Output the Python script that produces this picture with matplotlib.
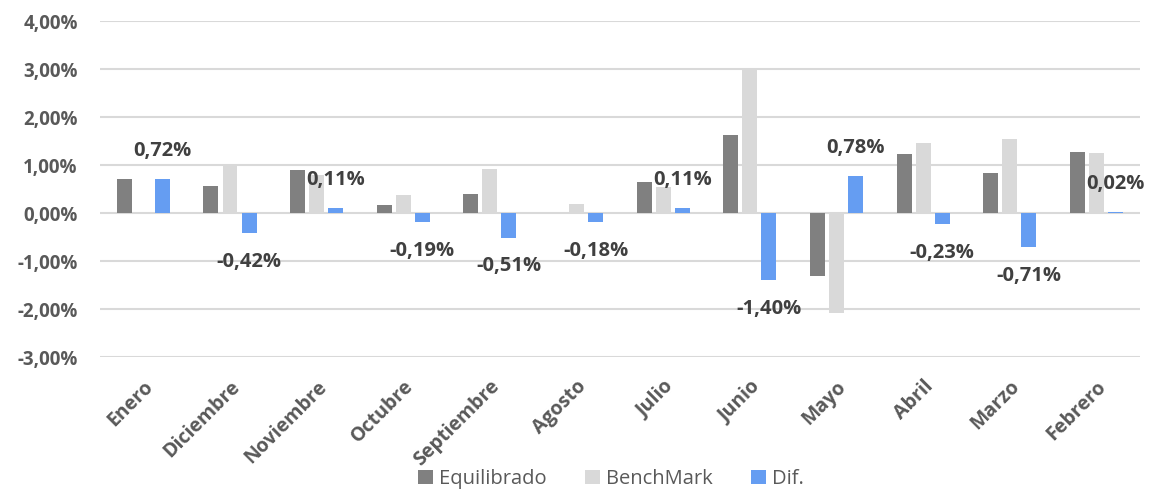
import numpy as np
import matplotlib
matplotlib.use('Agg')
import matplotlib.pyplot as plt
from matplotlib.ticker import FuncFormatter

plt.rcParams['font.family'] = ['Open Sans', 'DejaVu Sans']

meses = ['Enero', 'Diciembre', 'Noviembre', 'Octubre', 'Septiembre', 'Agosto',
         'Julio', 'Junio', 'Mayo', 'Abril', 'Marzo', 'Febrero']
equilibrado = [0.71, 0.56, 0.90, 0.18, 0.40, 0.01, 0.65, 1.63, -1.30, 1.23, 0.83, 1.27]
benchmark = [-0.01, 0.98, 0.79, 0.37, 0.91, 0.19, 0.54, 3.03, -2.08, 1.46, 1.54, 1.25]
dif = [0.72, -0.42, 0.11, -0.19, -0.51, -0.18, 0.11, -1.40, 0.78, -0.23, -0.71, 0.02]

c_equi = '#808080'
c_bench = '#d9d9d9'
c_dif = '#659df2'
c_text = '#595959'

fig = plt.figure(figsize=(11.5, 4.9), dpi=100)
ax = fig.add_axes([0.087, 0.271, 0.904, 0.686])

x = np.arange(len(meses))
w = 0.173
step = 0.22
ax.bar(x - step, equilibrado, w, color=c_equi, label='Equilibrado', zorder=3)
ax.bar(x, benchmark, w, color=c_bench, label='BenchMark', zorder=3)
ax.bar(x + step, dif, w, color=c_dif, label='Dif.', zorder=3)

# etiquetas de la diferencia
for xi, d in zip(x, dif):
    off = 0.58 if d >= 0 else -0.6
    ax.text(xi + step, d + off, f'{d:.2f}%'.replace('.', ','), ha='center', va='center',
            fontsize=14.5, fontweight='bold', color='#404040', zorder=4)

ax.set_ylim(-3, 4)
ax.set_xlim(-0.5, len(meses) - 0.5)
ax.set_yticks(np.arange(-3, 5, 1))
ax.yaxis.set_major_formatter(FuncFormatter(lambda v, p: f'{v:.2f}%'.replace('.', ',')))
ax.grid(axis='y', color='#d9d9d9', linewidth=1.5, zorder=0)
for s in ax.spines.values():
    s.set_visible(False)
ax.tick_params(length=0)
ax.tick_params(axis='y', labelsize=13.5, labelcolor=c_text, pad=16)
for lab in ax.get_yticklabels():
    lab.set_fontweight('bold')

ax.set_xticks(x)
ax.set_xticklabels(meses, rotation=45, ha='right', va='top', rotation_mode='anchor',
                   fontsize=14, fontweight='bold', color=c_text)
ax.tick_params(axis='x', pad=14)

fig.legend(loc='lower center', bbox_to_anchor=(0.531, -0.035), ncol=3, frameon=False,
           fontsize=14.5, labelcolor=c_text, handlelength=0.75, handleheight=0.75,
           handletextpad=0.3, columnspacing=1.9)

fig.savefig('out.png', dpi=100)
